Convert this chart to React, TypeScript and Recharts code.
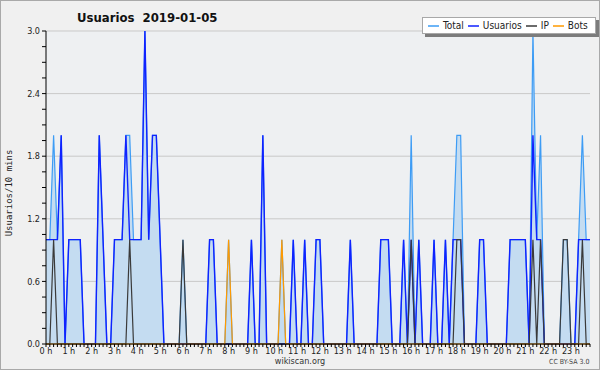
import { ComposedChart, Area, Line, XAxis, YAxis, CartesianGrid, Legend } from 'recharts'

const FONT = '"DejaVu Sans Condensed", "DejaVu Sans", sans-serif'

// one slot per 10 minutes, 00:00 .. 23:50
const SLOTS = Array.from({ length: 144 }, (_, i) => i)

const HOUR_LABELS = [
  '0 h', '1 h', '2 h', '3 h', '4 h', '5 h', '6 h', '7 h', '8 h', '9 h', '10 h', '11 h',
  '12 h', '13 h', '14 h', '15 h', '16 h', '17 h', '18 h', '19 h', '20 h', '21 h', '22 h', '23 h',
]

// 12 slots (2 hours) per row
const TOTAL = [
  1, 1, 2, 1, 2, 0, 1, 1, 1, 1, 0, 0,
  0, 0, 2, 1, 0, 0, 1, 1, 1, 2, 2, 1,
  1, 1, 3, 1, 2, 2, 1, 0, 0, 0, 0, 0,
  1, 0, 0, 0, 0, 0, 0, 1, 1, 0, 0, 0,
  1, 0, 0, 0, 0, 0, 1, 0, 0, 2, 0, 0,
  0, 0, 1, 0, 0, 1, 0, 0, 1, 0, 0, 1,
  1, 0, 0, 0, 0, 0, 0, 0, 1, 0, 0, 0,
  0, 0, 0, 0, 1, 1, 1, 0, 0, 0, 1, 0,
  2, 0, 1, 0, 0, 0, 1, 0, 0, 1, 0, 1,
  2, 2, 0, 0, 0, 0, 1, 1, 0, 0, 0, 0,
  0, 0, 1, 1, 1, 1, 1, 0, 3, 1, 2, 0,
  0, 0, 0, 0, 1, 1, 0, 0, 1, 2, 1, 1,
]

const USUARIOS = [
  1, 1, 1, 1, 2, 0, 1, 1, 1, 1, 0, 0,
  0, 0, 2, 1, 0, 0, 1, 1, 1, 2, 1, 1,
  1, 1, 3, 1, 2, 2, 1, 0, 0, 0, 0, 0,
  0, 0, 0, 0, 0, 0, 0, 1, 1, 0, 0, 0,
  0, 0, 0, 0, 0, 0, 1, 0, 0, 2, 0, 0,
  0, 0, 0, 0, 0, 1, 0, 0, 1, 0, 0, 1,
  1, 0, 0, 0, 0, 0, 0, 0, 1, 0, 0, 0,
  0, 0, 0, 0, 1, 1, 1, 0, 0, 0, 1, 0,
  1, 0, 1, 0, 0, 0, 1, 0, 0, 1, 0, 1,
  1, 1, 0, 0, 0, 0, 1, 1, 0, 0, 0, 0,
  0, 0, 1, 1, 1, 1, 1, 0, 2, 1, 1, 0,
  0, 0, 0, 0, 0, 0, 0, 0, 1, 1, 1, 1,
]

const IP = [
  0, 0, 1, 0, 0, 0, 0, 0, 0, 0, 0, 0,
  0, 0, 0, 0, 0, 0, 0, 0, 0, 0, 1, 0,
  0, 0, 0, 0, 0, 0, 0, 0, 0, 0, 0, 0,
  1, 0, 0, 0, 0, 0, 0, 0, 0, 0, 0, 0,
  0, 0, 0, 0, 0, 0, 0, 0, 0, 0, 0, 0,
  0, 0, 0, 0, 0, 0, 0, 0, 0, 0, 0, 0,
  0, 0, 0, 0, 0, 0, 0, 0, 0, 0, 0, 0,
  0, 0, 0, 0, 0, 0, 0, 0, 0, 0, 0, 0,
  1, 0, 0, 0, 0, 0, 0, 0, 0, 0, 0, 0,
  1, 1, 0, 0, 0, 0, 0, 0, 0, 0, 0, 0,
  0, 0, 0, 0, 0, 0, 0, 0, 1, 0, 1, 0,
  0, 0, 0, 0, 1, 1, 0, 0, 0, 1, 0, 0,
]

const BOTS = [
  0, 0, 0, 0, 0, 0, 0, 0, 0, 0, 0, 0,
  0, 0, 0, 0, 0, 0, 0, 0, 0, 0, 0, 0,
  0, 0, 0, 0, 0, 0, 0, 0, 0, 0, 0, 0,
  0, 0, 0, 0, 0, 0, 0, 0, 0, 0, 0, 0,
  1, 0, 0, 0, 0, 0, 0, 0, 0, 0, 0, 0,
  0, 0, 1, 0, 0, 0, 0, 0, 0, 0, 0, 0,
  0, 0, 0, 0, 0, 0, 0, 0, 0, 0, 0, 0,
  0, 0, 0, 0, 0, 0, 0, 0, 0, 0, 0, 0,
  0, 0, 0, 0, 0, 0, 0, 0, 0, 0, 0, 0,
  0, 0, 0, 0, 0, 0, 0, 0, 0, 0, 0, 0,
  0, 0, 0, 0, 0, 0, 0, 0, 0, 0, 0, 0,
  0, 0, 0, 0, 0, 0, 0, 0, 0, 0, 0, 0,
]

const Y_TICKS = [0, 0.15, 0.3, 0.45, 0.6, 0.75, 0.9, 1.05, 1.2, 1.35, 1.5, 1.65, 1.8, 1.95, 2.1, 2.25, 2.4, 2.55, 2.7, 2.85, 3]
const Y_LABELED = [0, 0.6, 1.2, 1.8, 2.4, 3]
const Y_GRID = [0.6, 1.2, 1.8, 2.4, 3]

const COLORS = {
  total: '#3d9cf5',
  totalFill: '#c4dcf1',
  usuarios: '#0f22ff',
  ip: '#3a3a3a',
  bots: '#ff9a00',
}

const SERIES = [
  { key: 'total', name: 'Total', color: COLORS.total },
  { key: 'usuarios', name: 'Usuarios', color: COLORS.usuarios },
  { key: 'ip', name: 'IP', color: COLORS.ip },
  { key: 'bots', name: 'Bots', color: COLORS.bots },
]

const data = SLOTS.map(i => ({
  slot: i,
  total: TOTAL[i],
  usuarios: USUARIOS[i],
  ip: IP[i],
  bots: BOTS[i],
}))

function HourTick({ x, y, payload }: any) {
  const v = payload.value as number
  if (v % 6 !== 0) return <g />
  return (
    <text x={x} y={y + 5} textAnchor="middle" fontSize={9} fill="#222" fontFamily={FONT}>
      {HOUR_LABELS[v / 6]}
    </text>
  )
}

function LegendBox() {
  return (
    <div
      style={{
        display: 'flex',
        alignItems: 'center',
        height: 15,
        padding: '0 3px 0 5px',
        background: '#fff',
        border: '1px solid #a8a8a8',
        boxShadow: '3px 3px 0 #7c7c7c',
        fontFamily: FONT,
        fontSize: 10,
        color: '#222',
        whiteSpace: 'nowrap',
      }}
    >
      {SERIES.map(s => (
        <span key={s.key} style={{ display: 'flex', alignItems: 'center', marginRight: 4 }}>
          <svg width={11} height={4} style={{ marginRight: 4 }}>
            <line x1={0} y1={2} x2={11} y2={2} stroke={s.color} strokeWidth={1.5} />
          </svg>
          {s.name}
        </span>
      ))}
    </div>
  )
}

export default function App() {
  return (
    <div style={{ position: 'absolute', left: 0, top: 0, width: 600, height: 370, background: '#f0f0f0', overflow: 'hidden' }}>
      <div
        style={{
          position: 'absolute', left: 77, top: 10, fontFamily: FONT, fontWeight: 'bold',
          fontSize: 13, lineHeight: '16px', color: '#111', whiteSpace: 'pre',
        }}
      >
        {'Usuarios  2019-01-05'}
      </div>
      <div
        style={{
          position: 'absolute', left: 9, top: 193, transform: 'translate(-50%, -50%) rotate(-90deg)',
          fontFamily: '"DejaVu Sans Mono", monospace', fontSize: 9, color: '#222', whiteSpace: 'nowrap',
        }}
      >
        Usuarios/10 mins
      </div>
      <ComposedChart
        width={600}
        height={370}
        data={data}
        margin={{ top: 31, right: 10, bottom: 0, left: 0 }}
        style={{ position: 'absolute', left: 0, top: 0 }}
      >
        <CartesianGrid vertical={false} horizontalValues={Y_GRID} stroke="#c9c9c9" fill="#eef0f2" />
        <XAxis
          dataKey="slot"
          type="number"
          domain={[0, 143]}
          ticks={SLOTS}
          interval={0}
          height={26}
          tick={<HourTick />}
          tickSize={3}
          tickMargin={2}
          axisLine={{ stroke: '#000' }}
          tickLine={{ stroke: '#000' }}
        />
        <YAxis
          type="number"
          domain={[0, 3]}
          ticks={Y_TICKS}
          interval={0}
          width={46}
          tickSize={4}
          tickMargin={2}
          tickFormatter={(v: number) => (Y_LABELED.includes(v) ? v.toFixed(1) : '')}
          tick={{ fontSize: 9, fill: '#222', fontFamily: FONT }}
          axisLine={{ stroke: '#000' }}
          tickLine={{ stroke: '#000' }}
        />
        <Legend
          layout="vertical"
          align="center"
          verticalAlign="middle"
          content={<LegendBox />}
          wrapperStyle={{ position: 'absolute', left: 422, top: 17, width: 'auto' }}
        />
        <Area
          dataKey="total"
          name="Total"
          type="linear"
          stroke={COLORS.total}
          strokeWidth={1.2}
          fill={COLORS.totalFill}
          fillOpacity={1}
          dot={false}
          activeDot={false}
          isAnimationActive={false}
        />
        <Line dataKey="usuarios" name="Usuarios" type="linear" stroke={COLORS.usuarios} strokeWidth={1.4} dot={false} activeDot={false} isAnimationActive={false} />
        <Line dataKey="ip" name="IP" type="linear" stroke={COLORS.ip} strokeWidth={1.2} dot={false} activeDot={false} isAnimationActive={false} />
        <Line dataKey="bots" name="Bots" type="linear" stroke={COLORS.bots} strokeWidth={1.2} dot={false} activeDot={false} isAnimationActive={false} />
      </ComposedChart>
      <div style={{ position: 'absolute', left: 0, width: 600, top: 356, textAlign: 'center', fontFamily: FONT, fontSize: 9, color: '#333' }}>
        wikiscan.org
      </div>
      <div style={{ position: 'absolute', left: 549, top: 358, fontFamily: FONT, fontSize: 7, color: '#444', whiteSpace: 'nowrap' }}>
        CC BY-SA 3.0
      </div>
      <div style={{ position: 'absolute', inset: 0, border: '1px solid #a9a9a9', pointerEvents: 'none' }} />
    </div>
  )
}
